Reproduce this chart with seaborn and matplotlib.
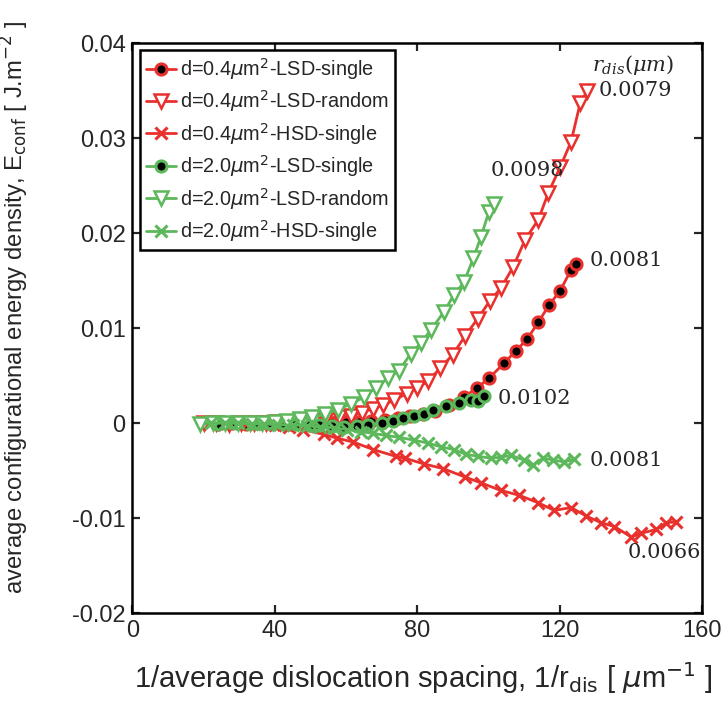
import numpy as np
import pandas as pd
import matplotlib
matplotlib.use("Agg")
import matplotlib.pyplot as plt
import seaborn as sns

# ---------------- data ----------------
x_r_single = [24, 28, 32, 36, 40, 44, 48, 52, 56, 60, 63.5, 67, 71, 74.5, 78, 81.5, 85, 89, 93,
              96.8, 100.1, 104.4, 107.7, 110.8, 114, 117, 120.1, 123.2, 124.6]
y_r_single = [-0.0001, 0, -0.0001, 0, 0, -0.0001, 0, 0, 0, 0.0001, 0.0001, 0.0002, 0.0003, 0.0005,
              0.0007, 0.0009, 0.0013, 0.0019, 0.0027, 0.0037, 0.0047, 0.0063, 0.0076, 0.0088,
              0.0106, 0.0124, 0.0139, 0.0161, 0.0167]

x_r_random = [20, 23.5, 27, 30.5, 34, 37.5, 41, 44.5, 48, 51, 54.5, 58, 61.3, 64.5, 67.5, 70.5, 73.5,
              77, 80, 83, 86.5, 90, 93.5, 97, 100.3, 103.5, 106.9, 110.3, 114, 116.8, 120.1,
              123.2, 125.8, 127.7]
y_r_random = [0, 0, -0.0001, 0, 0, 0, 0.0001, 0.0001, 0.0002, 0.0003, 0.0005, 0.0006, 0.0007,
              0.0011, 0.0015, 0.0019, 0.0024, 0.0031, 0.0037, 0.0044, 0.0058, 0.0072, 0.0092,
              0.0110, 0.0128, 0.0142, 0.0164, 0.0193, 0.0214, 0.0242, 0.0269, 0.0296, 0.0337,
              0.0349]

x_r_hsd = [24, 28, 32, 36, 40, 44, 48, 53.7, 57.5, 62, 67.7, 73.9, 76.5, 81.8, 87.3, 93.5, 97.9,
           103.5, 108.6, 114, 118.5, 123.2, 127.5, 131.7, 135.4, 140.1, 143, 147.2, 150, 152.8]
y_r_hsd = [0, 0, -0.0001, 0, -0.0002, -0.0004, -0.0007, -0.0012, -0.0016, -0.0020, -0.0028,
           -0.0035, -0.0037, -0.0043, -0.0048, -0.0057, -0.0063, -0.0071, -0.0076, -0.0084,
           -0.0092, -0.0089, -0.0098, -0.0105, -0.0109, -0.0120, -0.0116, -0.0112, -0.0105,
           -0.0104]

x_g_single = [24, 29, 34, 38, 42, 46, 50, 52.3, 56, 59.3, 63, 66.3, 70, 73.1, 76, 79, 82, 84.4,
              88, 91.7, 95.1, 97, 98.7]
y_g_single = [-0.0001, 0, 0, 0, 0, -0.0001, -0.0002, -0.0002, -0.0003, -0.0004, -0.0003, -0.0002,
              0, 0.0002, 0.0005, 0.0007, 0.0010, 0.0014, 0.0018, 0.0021, 0.0024, 0.0023, 0.0028]

x_g_random = [19, 22.5, 26, 29.5, 33, 36.5, 40, 43.5, 47, 50.5, 54, 57.6, 61.3, 64.9, 68.3, 71.7,
              74.8, 78.2, 81, 83.8, 87.5, 90.3, 93.1, 95.8, 97.9, 100.1, 101.5]
y_g_random = [-0.0001, 0, 0, 0, 0, 0, 0.0001, 0.0002, 0.0004, 0.0006, 0.0009, 0.0014, 0.0020,
              0.0027, 0.0037, 0.0047, 0.0055, 0.0073, 0.0084, 0.0098, 0.0117, 0.0135, 0.0148,
              0.0174, 0.0196, 0.0222, 0.0231]

x_g_hsd = [22, 26, 29.7, 33.5, 37, 41, 45, 49, 52.8, 56.5, 60.4, 64.1, 67.7, 71.1, 74.8, 79, 82.9,
           86.6, 90.3, 93.7, 97, 100.7, 103.5, 106.3, 110, 112.5, 115.4, 118.2, 121.3, 124.1]
y_g_hsd = [0, 0, 0, -0.0001, -0.0001, -0.0002, -0.0002, -0.0003, -0.0004, -0.0005, -0.0007,
           -0.0009, -0.0011, -0.0013, -0.0015, -0.0018, -0.0021, -0.0025, -0.0028, -0.0033,
           -0.0035, -0.0037, -0.0036, -0.0034, -0.0039, -0.0044, -0.0037, -0.0039, -0.0041,
           -0.0038]

series_labels = [r"d=0.4$\mu$m$^2$-LSD-single", r"d=0.4$\mu$m$^2$-LSD-random",
                 r"d=0.4$\mu$m$^2$-HSD-single", r"d=2.0$\mu$m$^2$-LSD-single",
                 r"d=2.0$\mu$m$^2$-LSD-random", r"d=2.0$\mu$m$^2$-HSD-single"]

x_ticks = [0, 40, 80, 120, 160]
y_ticks = [-0.02, -0.01, 0, 0.01, 0.02, 0.03, 0.04]
y_tick_labels = ["-0.02", "-0.01", "0", "0.01", "0.02", "0.03", "0.04"]

end_labels = ["0.0079", "0.0098", "0.0081", "0.0102", "0.0081", "0.0066"]
end_label_pos = [(131.0, 0.0350), (100.7, 0.0266), (128.3, 0.0171), (102.7, 0.0026),
                 (128.3, -0.0039), (139.0, -0.0136)]

# ---------------- style ----------------
sns.set_style("ticks")
plt.rcParams["font.family"] = ["Liberation Sans", "DejaVu Sans"]
plt.rcParams["mathtext.fontset"] = "dejavusans"

RED = "#e8302d"
GREEN = "#5cb85a"

fig = plt.figure(figsize=(7.28, 7.09), dpi=100)
ax = fig.add_axes([0.182, 0.1354, 0.7823, 0.8039])

series = [
    (x_r_single, y_r_single, RED, dict(marker="o", markersize=8, markerfacecolor="black",
                                         markeredgecolor=RED, markeredgewidth=2.2)),
    (x_r_random, y_r_random, RED, dict(marker="v", markersize=10, markerfacecolor="white",
                                         markeredgecolor=RED, markeredgewidth=1.8)),
    (x_r_hsd, y_r_hsd, RED, dict(marker="x", markersize=9, markeredgecolor=RED,
                                   markeredgewidth=2.2)),
    (x_g_single, y_g_single, GREEN, dict(marker="o", markersize=8, markerfacecolor="black",
                                           markeredgecolor=GREEN, markeredgewidth=2.2)),
    (x_g_random, y_g_random, GREEN, dict(marker="v", markersize=10, markerfacecolor="white",
                                           markeredgecolor=GREEN, markeredgewidth=1.8)),
    (x_g_hsd, y_g_hsd, GREEN, dict(marker="x", markersize=9, markeredgecolor=GREEN,
                                     markeredgewidth=2.2)),
]

for (xs, ys, col, mk), lab in zip(series, series_labels):
    df = pd.DataFrame({"x": xs, "y": ys})
    sns.lineplot(data=df, x="x", y="y", ax=ax, color=col, linewidth=2.0, sort=False,
                 estimator=None, label=lab, **mk)

ax.set_xlim(0, 160)
ax.set_ylim(-0.02, 0.04)
ax.set_xticks(x_ticks)
ax.set_xticklabels([str(t) for t in x_ticks])
ax.set_yticks(y_ticks)
ax.set_yticklabels(y_tick_labels)
ax.tick_params(direction="in", top=True, right=True, length=6, width=1.6,
               labelsize=17, pad=5)
for sp in ax.spines.values():
    sp.set_visible(True)
    sp.set_linewidth(1.8)
    sp.set_color("black")

ax.set_xlabel(r"1/average dislocation spacing, 1/r$_{\rm dis}$ [ $\mu$m$^{-1}$ ]",
              fontsize=21, labelpad=14)
ax.set_ylabel(r"average configurational energy density, E$_{\rm conf}$ [ J.m$^{-2}$ ]",
              fontsize=17.2)
ax.yaxis.set_label_coords(-0.178, 0.536)
ax.xaxis.set_label_coords(0.51, -0.083)

leg = ax.legend(loc="upper left", bbox_to_anchor=(0.013, 0.988), borderaxespad=0,
                fontsize=14.3, handlelength=1.5, handletextpad=0.2, labelspacing=0.33,
                fancybox=False, framealpha=1, edgecolor="black", borderpad=0.3)
leg.get_frame().set_linewidth(1.8)

for txt, (tx, ty) in zip(end_labels, end_label_pos):
    ax.text(tx, ty, txt, fontsize=15, family="DejaVu Serif", va="center", ha="left")
ax.text(140.5, 0.0377, r"$r_{dis}(\mu m)$", fontsize=15, va="center", ha="center",
        math_fontfamily="dejavuserif")

fig.savefig("out.png", dpi=100)
